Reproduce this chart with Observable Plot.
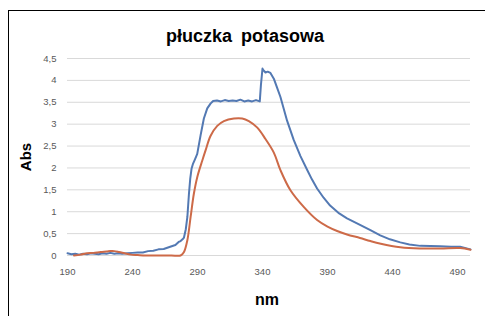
<!DOCTYPE html>
<html>
<head>
<meta charset="utf-8">
<script src="https://cdn.jsdelivr.net/npm/d3@7"></script>
<script src="https://cdn.jsdelivr.net/npm/@observablehq/plot@0.6"></script>
<style>
  body { margin: 0; background: #fff; font-family: "Liberation Sans", Arial, sans-serif; }
  #wrap { position: relative; width: 485px; height: 316px; overflow: hidden; }
  #frame { position: absolute; left: 8px; top: 10px; width: 490px; height: 320px; border: 1px solid #000; box-sizing: border-box; }
  #title { position: absolute; left: 0; width: 490px; top: 26px; text-align: center; font-weight: bold; font-size: 18px; word-spacing: 4px; color: #000; }
  #ylab { position: absolute; left: 25px; top: 157px; transform: translate(-50%, -50%) rotate(-90deg); font-weight: bold; font-size: 15px; color: #000; }
  #xlab { position: absolute; left: 267px; top: 300px; transform: translate(-50%, -50%); font-weight: bold; font-size: 16px; color: #000; }
  #chart { position: absolute; left: 0; top: 0; }
</style>
</head>
<body>
<div id="wrap">
  <div id="frame"></div>
  <div id="chart"></div>
  <div id="title">płuczka potasowa</div>
  <div id="ylab">Abs</div>
  <div id="xlab">nm</div>
</div>
<script>
const xTicks = [190, 240, 290, 340, 390, 440, 490];
const yTicks = [0, 0.5, 1, 1.5, 2, 2.5, 3, 3.5, 4, 4.5];

const blueWl = [190, 193, 196, 199, 202, 205, 208, 211, 214, 217, 220, 223, 226, 229, 232, 236, 240, 244, 248, 252, 256, 260, 264, 269, 273, 275.5, 277, 278.5, 279.6, 281, 282.2, 283.4, 284.4, 285.4, 286.6, 287.8, 289.8, 292.4, 294.9, 297.5, 300, 302, 305, 308, 311, 314, 317, 320, 323, 326, 329, 332, 335, 337.9, 338.8, 340, 340.5, 342.3, 344, 346.1, 348.7, 351, 353.8, 358.9, 364, 369.2, 374.3, 378, 382, 387, 392, 399, 405, 415, 423, 430.6, 438, 446, 453, 461.4, 476.7, 485, 492, 500];
const blueAbs = [0.05, 0.03, 0.04, 0.02, 0.04, 0.03, 0.05, 0.04, 0.03, 0.05, 0.04, 0.06, 0.04, 0.05, 0.04, 0.05, 0.06, 0.07, 0.07, 0.10, 0.11, 0.14, 0.15, 0.20, 0.24, 0.31, 0.33, 0.37, 0.41, 0.60, 0.88, 1.40, 1.75, 1.98, 2.10, 2.18, 2.32, 2.75, 3.13, 3.36, 3.47, 3.53, 3.54, 3.52, 3.55, 3.53, 3.54, 3.53, 3.56, 3.52, 3.54, 3.52, 3.55, 3.52, 3.90, 4.27, 4.24, 4.18, 4.20, 4.17, 4.04, 3.85, 3.62, 3.08, 2.64, 2.27, 1.96, 1.74, 1.53, 1.32, 1.14, 0.96, 0.85, 0.70, 0.58, 0.46, 0.37, 0.30, 0.25, 0.22, 0.21, 0.20, 0.20, 0.14];

const redWl = [195, 200, 205, 210, 215.5, 220, 223, 226, 229.6, 234, 238.6, 244, 250, 260, 270, 277, 279.6, 282.2, 284.7, 287.2, 289.8, 293.7, 296.2, 300, 305.2, 310.3, 318, 324.4, 329.5, 336, 342.3, 348.7, 353.8, 361.5, 371.7, 382, 390, 397.4, 405, 415, 423, 431, 446, 461, 477, 492, 500];
const redAbs = [0.0, 0.02, 0.05, 0.06, 0.08, 0.09, 0.10, 0.10, 0.08, 0.05, 0.02, 0.01, 0.0, 0.0, 0.0, 0.0, 0.08, 0.35, 0.88, 1.41, 1.79, 2.17, 2.40, 2.73, 2.96, 3.07, 3.13, 3.13, 3.07, 2.92, 2.66, 2.35, 1.95, 1.49, 1.11, 0.81, 0.66, 0.56, 0.48, 0.40, 0.33, 0.27, 0.19, 0.16, 0.16, 0.17, 0.13];

const blue = blueWl.map((x, i) => ({x, y: blueAbs[i]}));
const red = redWl.map((x, i) => ({x, y: redAbs[i]}));

const fmt = d => String(d).replace(".", ",");

const chart = Plot.plot({
  width: 485,
  height: 316,
  marginLeft: 67,
  marginRight: 15,
  marginTop: 58,
  marginBottom: 61,
  style: { fontFamily: "'Liberation Sans', Arial, sans-serif", fontSize: "9.5px", color: "#595959", background: "transparent" },
  x: { domain: [190, 500], ticks: xTicks, tickSize: 0, tickPadding: 13, tickFormat: d => d, label: null },
  y: { domain: [0, 4.5], ticks: yTicks, tickSize: 0, tickPadding: 11, tickFormat: fmt, label: null },
  marks: [
    Plot.ruleY(yTicks, { stroke: "#d9d9d9", strokeWidth: 1 }),
    Plot.line(blue, { x: "x", y: "y", stroke: "#5379b3", strokeWidth: 2, curve: "linear" }),
    Plot.line(red, { x: "x", y: "y", stroke: "#cd6a48", strokeWidth: 2, curve: "catmull-rom" })
  ]
});
document.getElementById("chart").appendChild(chart);
</script>
</body>
</html>
